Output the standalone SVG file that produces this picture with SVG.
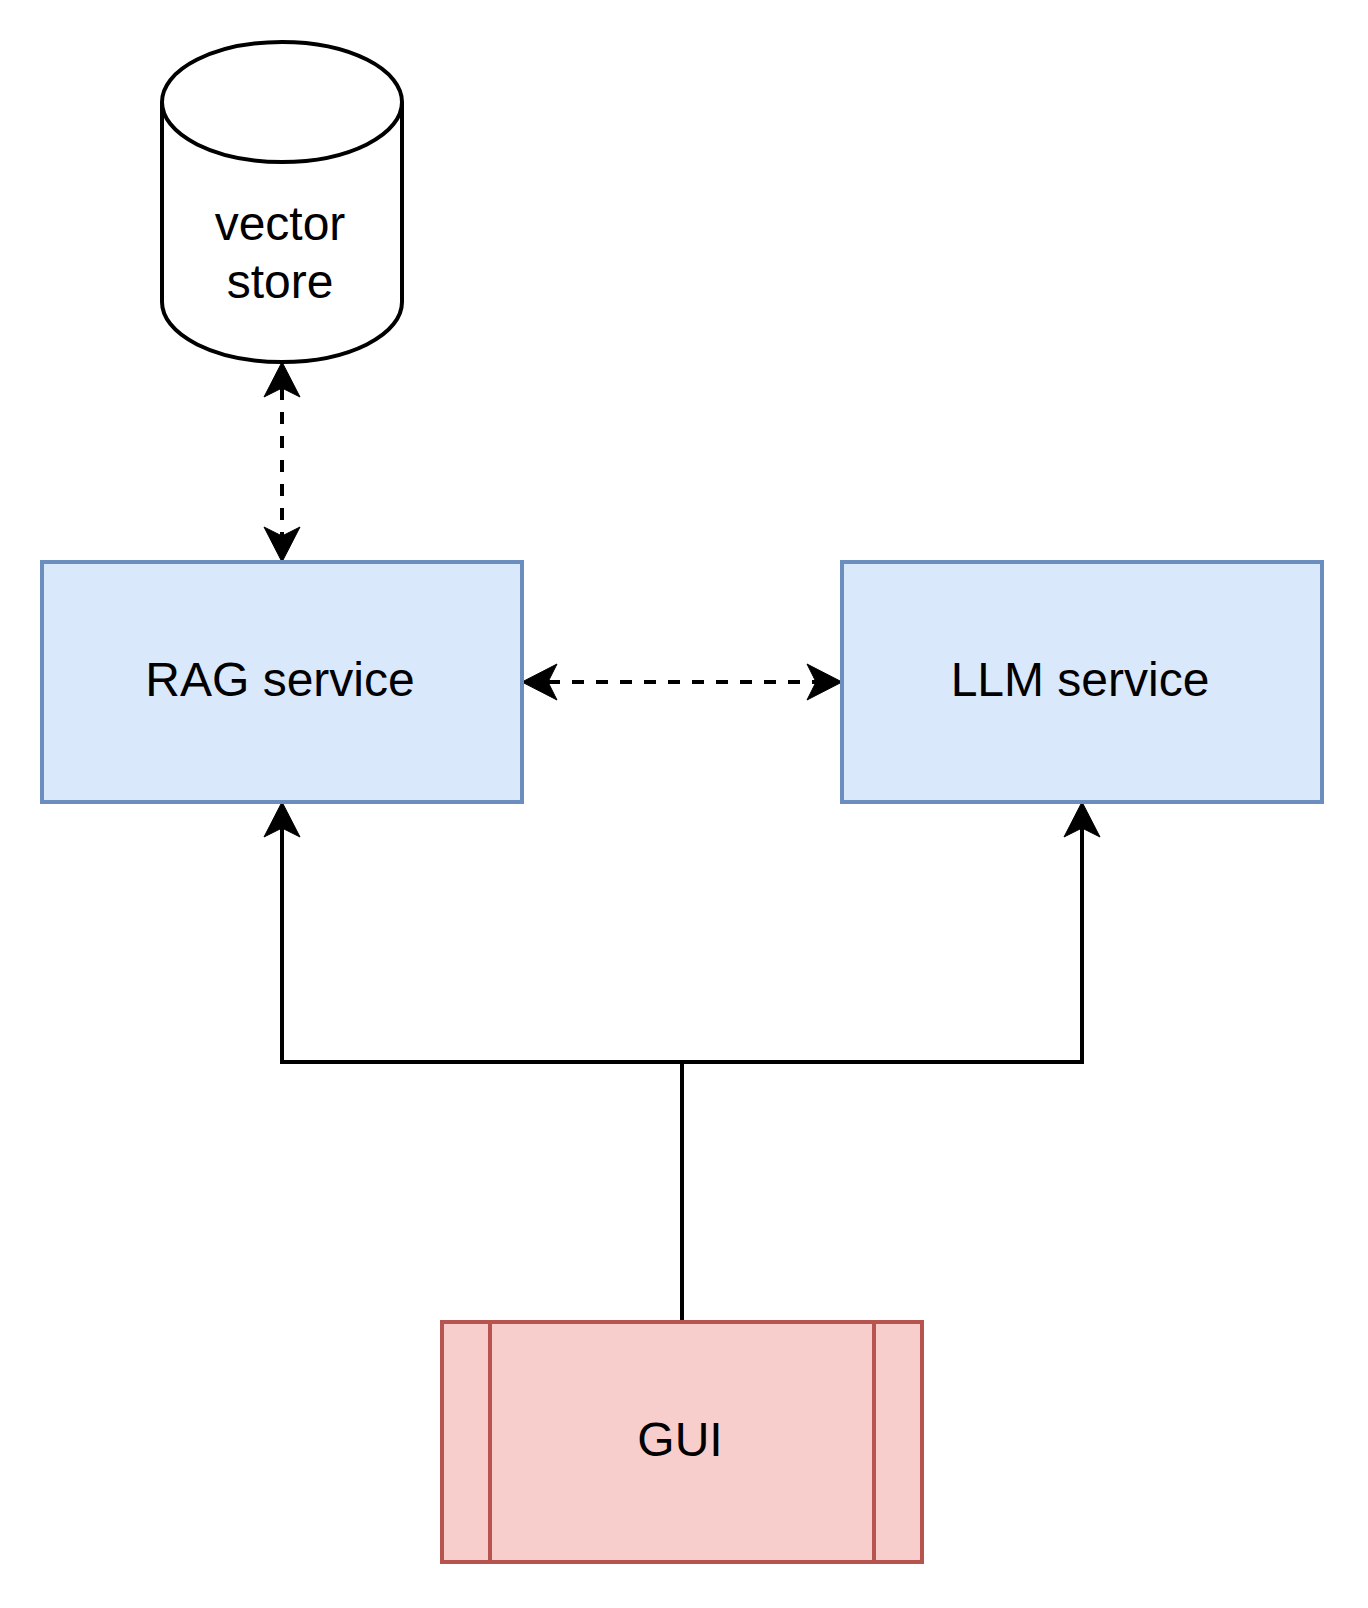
<svg xmlns="http://www.w3.org/2000/svg" width="1368" height="1608" viewBox="0 0 1368 1608">
  <style>
    .lbl { font-family: "Liberation Sans", Arial, sans-serif; font-size: 48px; fill: #000000; text-anchor: middle; }
    .svc { fill: #dae8fc; stroke: #6c8ebf; stroke-width: 4; }
    .gui { fill: #f8cecc; stroke: #b85450; stroke-width: 4; }
    .db { fill: #ffffff; stroke: #000000; stroke-width: 4; }
    .edge { fill: none; stroke: #000000; stroke-width: 4; }
    .dash { stroke-dasharray: 12 12; }
  </style>
  <defs>
    <marker id="arrow" markerUnits="userSpaceOnUse" viewBox="-40 -22 44 44" refX="-26" refY="0" markerWidth="44" markerHeight="44" orient="auto-start-reverse">
      <path d="M0,0 L-35,-18 L-26,0 L-35,18 Z" fill="#000000" stroke="#000000" stroke-width="1" stroke-dasharray="none" stroke-linejoin="miter"/>
    </marker>
  </defs>
  <rect x="0" y="0" width="1368" height="1608" fill="#ffffff"/>

  <g id="connectors">
    <path class="edge dash" d="M282,388 L282,536" marker-start="url(#arrow)" marker-end="url(#arrow)"/>
    <path class="edge dash" d="M548,682 L816,682" marker-start="url(#arrow)" marker-end="url(#arrow)"/>
    <path class="edge" d="M682,1322 L682,1062 L282,1062 L282,828" marker-end="url(#arrow)"/>
    <path class="edge" d="M682,1322 L682,1062 L1082,1062 L1082,828" marker-end="url(#arrow)"/>
  </g>

  <g id="vector-store">
    <path class="db" d="M162,102 A120,60 0 0 1 402,102 L402,302 A120,60 0 0 1 162,302 Z"/>
    <path class="db" fill="none" d="M162,102 A120,60 0 0 0 402,102"/>
    <text class="lbl" x="280" y="240">vector</text>
    <text class="lbl" x="280" y="298">store</text>
  </g>

  <g id="rag-service">
    <rect class="svc" x="42" y="562" width="480" height="240"/>
    <text class="lbl" x="280" y="696">RAG service</text>
  </g>

  <g id="llm-service">
    <rect class="svc" x="842" y="562" width="480" height="240"/>
    <text class="lbl" x="1080" y="696">LLM service</text>
  </g>

  <g id="gui">
    <rect class="gui" x="442" y="1322" width="480" height="240"/>
    <line class="gui" x1="490" y1="1322" x2="490" y2="1562"/>
    <line class="gui" x1="874" y1="1322" x2="874" y2="1562"/>
    <text class="lbl" x="680" y="1456">GUI</text>
  </g>
</svg>
